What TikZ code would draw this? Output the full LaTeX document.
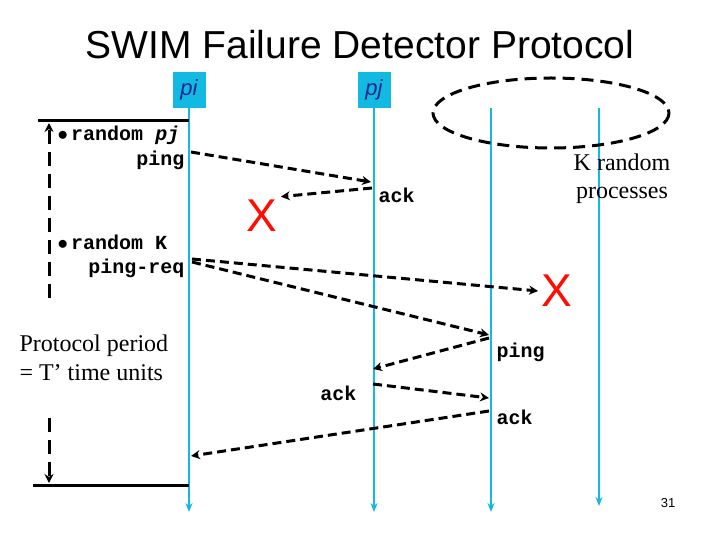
\documentclass[tikz,border=0pt]{standalone}
\usepackage{fontspec}
\setmainfont{Liberation Serif}
\setsansfont{Liberation Sans}
\setmonofont{Liberation Mono}
\usetikzlibrary{arrows.meta,positioning}
\definecolor{lifecyan}{RGB}{20,185,225}
\definecolor{labelblue}{RGB}{20,40,150}
\begin{document}
\begin{tikzpicture}[x=1pt,y=-1pt,
    life/.style={lifecyan, line width=2.4pt, -{Stealth[length=9pt,width=7pt]}},
    proc/.style={fill=lifecyan, font=\sffamily\itshape\fontsize{22}{24}\selectfont, text=labelblue, minimum width=33pt, minimum height=36pt, inner sep=1pt},
    msg/.style={line width=3pt, dash pattern=on 9pt off 5pt, -{Stealth[length=9pt,width=9pt]}},
    mono/.style={font=\ttfamily\fontsize{20}{24}\selectfont},
    lost/.style={red!90!orange, font=\sffamily\fontsize{46}{46}\selectfont}
]
\useasboundingbox (0,0) rectangle (720,540);

% title
\node[font=\sffamily\fontsize{39}{42}\selectfont] (title) at (360,45) {SWIM Failure Detector Protocol};

% processes
\node[proc] (pi) at (189,90) {pi};
\node[proc] (pj) at (374,90) {pj};
\coordinate (pk) at (491,108);
\coordinate (pl) at (599,108);
\coordinate (piend) at (189,512);
\coordinate (pjend) at (374,512);
\coordinate (pkend) at (491,512);
\coordinate (plend) at (599,506);
\draw[life] (pi) -- (piend);
\draw[life] (pj) -- (pjend);
\draw[life] (pk) -- (pkend);
\draw[life] (pl) -- (plend);
\draw[line width=3pt, dash pattern=on 12pt off 7pt] (551,113) ellipse [x radius=118, y radius=35];
\node[align=center, font=\fontsize{24}{28}\selectfont] (krand) at (622,179) {K random\\processes};

% protocol period
\coordinate (topl) at (38,121);
\coordinate (topr) at (189,121);
\coordinate (botl) at (33,485);
\coordinate (botr) at (189,485);
\draw[line width=3pt] (topl) -- (topr);
\draw[line width=3pt] (botl) -- (botr);
\draw[msg, dash pattern=on 14pt off 8pt] (49,298) -- (49,123);
\draw[msg, dash pattern=on 14pt off 8pt] (49,418) -- (49,483);
\node[align=left, anchor=west, font=\fontsize{24}{29}\selectfont] (period) at (16,358) {Protocol period\\= T’ time units};

% texts at pi
\node[mono, anchor=west] (rpj) at (54,135) {\textbf{$\bullet$\,random \textit{pj}}};
\node[mono, anchor=east] (pingtxt) at (188,160) {\textbf{ping}};
\node[mono, anchor=west] (rk) at (54,242) {\textbf{$\bullet$\,random K}};
\node[mono, anchor=east] (preq) at (188,268) {\textbf{ping-req}};

% direct ping
\coordinate (a1) at (191,152);
\coordinate (a2) at (371,182);
\draw[msg] (a1) -- (a2);
\coordinate (b1) at (372,188);
\node[lost] (x1) at (262,216) {X};
\draw[msg] (b1) -- (x1.north east);
\node[mono, anchor=west] (ack1) at (375,195) {\textbf{ack}};

% ping-req
\coordinate (c1) at (192,259);
\node[lost] (x2) at (557,291) {X};
\draw[msg] (c1) -- (x2.west);
\coordinate (d1) at (192,262);
\coordinate (d2) at (489,335);
\draw[msg] (d1) -- (d2);

% indirect ping
\coordinate (e1) at (489,338);
\coordinate (e2) at (373,369);
\draw[msg] (e1) -- (e2);
\node[mono, anchor=west] (ping2) at (493,352) {\textbf{ping}};
\coordinate (f1) at (373,384);
\coordinate (f2) at (489,398);
\draw[msg] (f1) -- (f2);
\node[mono, anchor=east] (ack2) at (360,393) {\textbf{ack}};
\coordinate (g1) at (489,411);
\coordinate (g2) at (191,456);
\draw[msg] (g1) -- (g2);
\node[mono, anchor=west] (ack3) at (493,417) {\textbf{ack}};

% page number
\node[font=\sffamily\fontsize{13}{15}\selectfont] (page) at (668,503) {31};
\end{tikzpicture}
\end{document}
